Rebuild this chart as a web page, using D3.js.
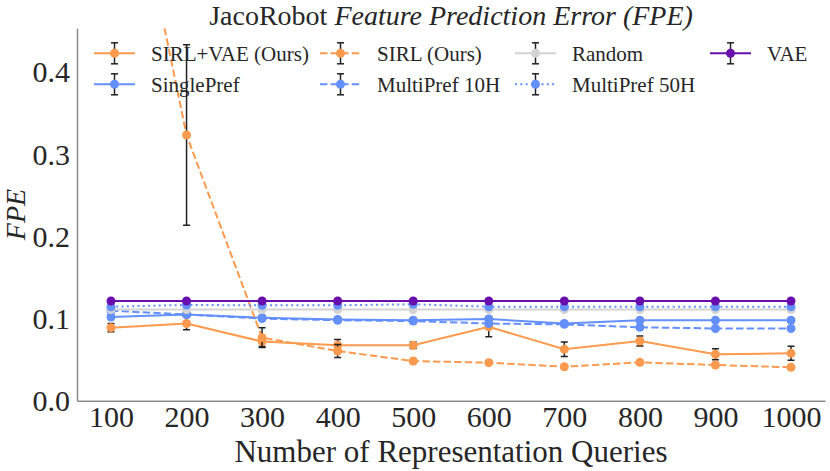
<!DOCTYPE html>
<html lang="en">
<head>
    <meta charset="UTF-8">
    <title>JacoRobot FPE</title>
    <script src="https://cdn.jsdelivr.net/npm/d3@7"></script>
    <style>
        body { margin: 0; background: white; }
        svg { display: block; }
        text { font-family: "Liberation Serif", serif; fill: #262626; }
    </style>
</head>
<body>
    <svg id="chart" width="830" height="471"></svg>
    <script>
        // data
        const queries = [100, 200, 300, 400, 500, 600, 700, 800, 900, 1000];
        const yTicks = [0.0, 0.1, 0.2, 0.3, 0.4];

        const sirlVae = [0.089, 0.094, 0.072, 0.0675, 0.0675, 0.090, 0.0626, 0.0727, 0.0565, 0.0577];
        const sirlVaeErr = [0.005, 0.0075, 0.006, 0.007, 0.004, 0.012, 0.0088, 0.006, 0.0067, 0.0085];
        const singlePref = [0.102, 0.105, 0.101, 0.099, 0.098, 0.0995, 0.094, 0.098, 0.098, 0.098];
        const singlePrefErr = [0.002, 0.002, 0.002, 0.002, 0.002, 0.002, 0.002, 0.002, 0.002, 0.002];
        const sirl = [0.77, 0.3236, 0.0768, 0.0605, 0.0483, 0.0463, 0.0414, 0.0467, 0.0435, 0.0407];
        const sirlErr = [0.0, 0.11, 0.012, 0.008, 0.002, 0.002, 0.002, 0.002, 0.002, 0.002];
        const multi10 = [0.1096, 0.105, 0.100, 0.098, 0.097, 0.094, 0.093, 0.0894, 0.088, 0.088];
        const multi10Err = [0.002, 0.002, 0.002, 0.002, 0.002, 0.002, 0.002, 0.002, 0.002, 0.002];
        const random = [0.111, 0.111, 0.111, 0.111, 0.111, 0.111, 0.111, 0.111, 0.111, 0.111];
        const randomErr = [0.002, 0.002, 0.002, 0.002, 0.002, 0.002, 0.002, 0.002, 0.002, 0.002];
        const multi50 = [0.1145, 0.1166, 0.1162, 0.1162, 0.1175, 0.1145, 0.1145, 0.1145, 0.1145, 0.1145];
        const multi50Err = [0.001, 0.001, 0.001, 0.001, 0.001, 0.001, 0.001, 0.001, 0.001, 0.001];
        const vae = [0.1214, 0.1214, 0.1214, 0.1214, 0.1214, 0.1214, 0.1214, 0.1214, 0.1214, 0.1214];
        const vaeErr = [0.001, 0.001, 0.001, 0.001, 0.001, 0.001, 0.001, 0.001, 0.001, 0.001];

        // legend order (column major, 4 columns)
        const series = [
            {name: "SIRL+VAE (Ours)", y: sirlVae, err: sirlVaeErr, color: "#fd9a4d", dash: null},
            {name: "SinglePref", y: singlePref, err: singlePrefErr, color: "#648fff", dash: null},
            {name: "SIRL (Ours)", y: sirl, err: sirlErr, color: "#fd9a4d", dash: "7.4,3.2"},
            {name: "MultiPref 10H", y: multi10, err: multi10Err, color: "#648fff", dash: "7.4,3.2"},
            {name: "Random", y: random, err: randomErr, color: "#d3d3d3", dash: null},
            {name: "MultiPref 50H", y: multi50, err: multi50Err, color: "#648fff", dash: "2,3.3"},
            {name: "VAE", y: vae, err: vaeErr, color: "#6a0dad", dash: null}
        ];

        const serif = '"Liberation Serif", serif';
        const svg = d3.select("#chart");
        const m = {left: 77, right: 825, top: 28.3, bottom: 400.7};

        const x = d3.scaleLinear().domain([55, 1045]).range([m.left, m.right]);
        const y = d3.scaleLinear().domain([0, 0.4536]).range([m.bottom, m.top]);

        svg.append("clipPath").attr("id", "plotArea")
            .append("rect")
            .attr("x", m.left).attr("y", m.top)
            .attr("width", m.right - m.left).attr("height", m.bottom - m.top);

        // axes (spines only, no tick marks)
        const xAxis = svg.append("g")
            .attr("transform", `translate(0,${m.bottom})`)
            .call(d3.axisBottom(x).tickValues(queries).tickFormat(d3.format("d")).tickSize(0).tickPadding(5));
        xAxis.attr("font-family", serif).attr("font-size", 30);
        xAxis.select(".domain").attr("stroke", "#8c8c8c").attr("stroke-width", 1.5);
        xAxis.selectAll("text").style("font-family", serif).style("font-size", "30px").attr("fill", "#262626");

        const yAxis = svg.append("g")
            .attr("transform", `translate(${m.left},0)`)
            .call(d3.axisLeft(y).tickValues(yTicks).tickFormat(d3.format(".1f")).tickSize(0).tickPadding(7));
        yAxis.attr("font-family", serif).attr("font-size", 30);
        yAxis.select(".domain").attr("stroke", "#8c8c8c").attr("stroke-width", 1.5);
        yAxis.selectAll("text").style("font-family", serif).style("font-size", "30px").attr("fill", "#262626");

        const plot = svg.append("g").attr("clip-path", "url(#plotArea)");

        const line = d3.line()
            .x((d, i) => x(queries[i]))
            .y(d => y(d));

        series.forEach(s => {
            const g = plot.append("g");
            g.append("path")
                .attr("d", line(s.y))
                .attr("fill", "none")
                .attr("stroke", s.color)
                .attr("stroke-width", 2)
                .attr("stroke-dasharray", s.dash);
            // error bars
            const eb = g.selectAll(".eb").data(s.y).enter().append("g");
            eb.append("line")
                .attr("x1", (d, i) => x(queries[i])).attr("x2", (d, i) => x(queries[i]))
                .attr("y1", (d, i) => y(d - s.err[i])).attr("y2", (d, i) => y(d + s.err[i]))
                .attr("stroke", "#222").attr("stroke-width", 1.5);
            [-1, 1].forEach(sign => {
                eb.append("line")
                    .attr("x1", (d, i) => x(queries[i]) - 3.5).attr("x2", (d, i) => x(queries[i]) + 3.5)
                    .attr("y1", (d, i) => y(d + sign * s.err[i])).attr("y2", (d, i) => y(d + sign * s.err[i]))
                    .attr("stroke", "#222").attr("stroke-width", 1.5);
            });
            g.selectAll(".dot").data(s.y).enter().append("circle")
                .attr("cx", (d, i) => x(queries[i]))
                .attr("cy", d => y(d))
                .attr("r", 4.5)
                .attr("fill", s.color);
        });

        // legend
        const colX = [94, 320, 515, 710];
        const rowY = [53.3, 84.3];
        series.forEach((s, k) => {
            const lx = colX[Math.floor(k / 2)], ly = rowY[k % 2];
            const lg = svg.append("g").attr("transform", `translate(${lx},${ly})`);
            lg.append("line")
                .attr("x1", 0).attr("x2", 41).attr("y1", 0).attr("y2", 0)
                .attr("stroke", s.color).attr("stroke-width", 2)
                .attr("stroke-dasharray", s.dash);
            lg.append("line")
                .attr("x1", 20.5).attr("x2", 20.5).attr("y1", -10.5).attr("y2", 10.5)
                .attr("stroke", "#222").attr("stroke-width", 1.5);
            [-10.5, 10.5].forEach(cy => {
                lg.append("line")
                    .attr("x1", 17).attr("x2", 24).attr("y1", cy).attr("y2", cy)
                    .attr("stroke", "#222").attr("stroke-width", 1.5);
            });
            lg.append("circle").attr("cx", 20.5).attr("cy", 0).attr("r", 4.5).attr("fill", s.color);
            lg.append("text")
                .attr("x", 57).attr("y", 0).attr("dy", "0.35em")
                .style("font-size", "21px")
                .text(s.name);
        });

        // title
        const title = svg.append("text")
            .attr("x", (m.left + m.right) / 2).attr("y", 25)
            .attr("text-anchor", "middle")
            .style("font-size", "28px");
        title.append("tspan").text("JacoRobot ");
        title.append("tspan").style("font-style", "italic").text("Feature Prediction Error (FPE)");

        // axis labels
        svg.append("text")
            .attr("x", (m.left + m.right) / 2).attr("y", 462)
            .attr("text-anchor", "middle")
            .style("font-size", "31px")
            .text("Number of Representation Queries");

        svg.append("text")
            .attr("transform", `translate(25,${(m.top + m.bottom) / 2}) rotate(-90)`)
            .attr("text-anchor", "middle")
            .style("font-size", "28px")
            .style("font-style", "italic")
            .text("FPE");
    </script>
</body>
</html>
